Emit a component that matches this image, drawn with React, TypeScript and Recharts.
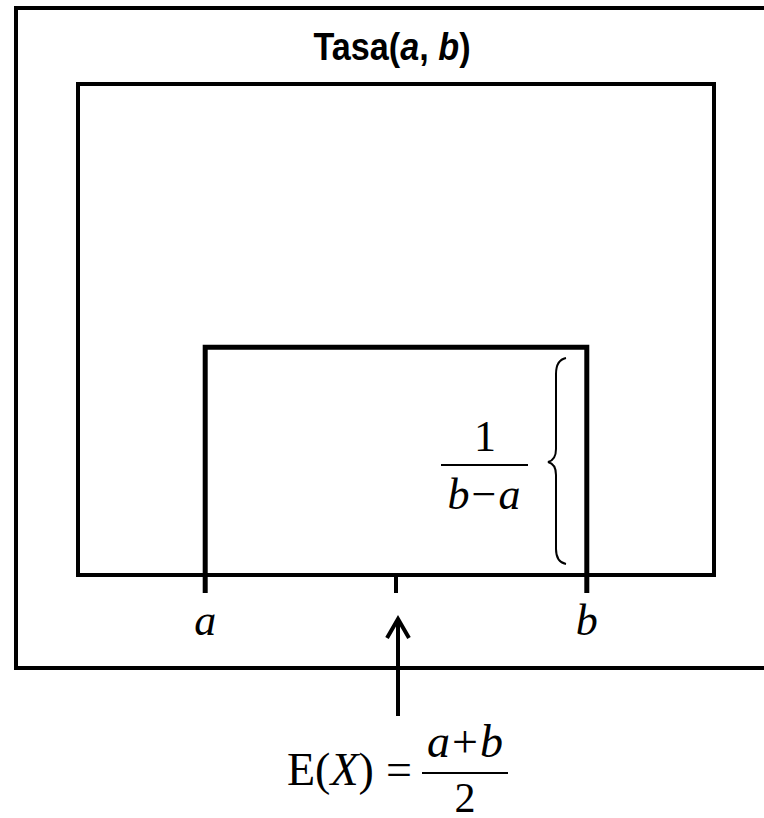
import { ComposedChart, Line, XAxis, YAxis, ReferenceArea } from 'recharts';

// uniform density on [a, b]
const stepX = [0.2, 0.2, 0.8, 0.8];
const stepY = [0, 1.67, 1.67, 0];
const tickValues = [0.2, 0.5, 0.8];
const tickLabels = ['a', '', 'b'];
const xDomain = [0, 1];
const yDomain = [0, 3.6];

const stepData = stepX.map((x, i) => ({ x, y: stepY[i] }));

const serif = '"Liberation Serif", "Times New Roman", serif';
const sans = '"Liberation Sans", Arial, sans-serif';

function AxisTick(props: any) {
  const { x, y, payload } = props;
  const idx = tickValues.indexOf(payload.value);
  const label = tickLabels[idx] ?? '';
  const isEnd = label !== '';
  return (
    <g>
      <line x1={x} x2={x} y1={y - 18} y2={y} stroke="#000" strokeWidth={isEnd ? 5 : 4} />
      {label && (
        <text x={x} y={y + 42} textAnchor="middle" fontFamily={serif} fontStyle="italic" fontSize={44} fill="#000">
          {label}
        </text>
      )}
    </g>
  );
}

export default function App() {
  return (
    <div style={{ position: 'absolute', left: 0, top: 0, width: 764, height: 818, overflow: 'hidden', background: '#fff' }}>
      <ComposedChart
        width={764}
        height={818}
        data={stepData}
        margin={{ top: 84, left: 78, right: 50, bottom: 183 }}
      >
        <XAxis
          dataKey="x"
          type="number"
          domain={xDomain}
          ticks={tickValues}
          axisLine={false}
          tickLine={false}
          tickSize={18}
          tickMargin={0}
          height={60}
          tick={<AxisTick />}
          allowDataOverflow
        />
        <YAxis type="number" domain={yDomain} hide allowDataOverflow />
        <ReferenceArea
          x1={xDomain[0]}
          x2={xDomain[1]}
          y1={yDomain[0]}
          y2={yDomain[1]}
          fill="none"
          fillOpacity={0}
          stroke="#000"
          strokeWidth={4}
        />
        <Line
          dataKey="y"
          type="linear"
          stroke="#000"
          strokeWidth={5}
          dot={false}
          activeDot={false}
          isAnimationActive={false}
        />
      </ComposedChart>
      <svg
        width={764}
        height={818}
        style={{ position: 'absolute', left: 0, top: 0, pointerEvents: 'none' }}
      >
        <path d="M 800 8 H 16 V 668 H 800" fill="none" stroke="#000" strokeWidth={4} />
        <g transform="translate(392,60) scale(0.9,1)">
          <text x={0} y={0} textAnchor="middle" fontFamily={sans} fontWeight="bold" fontSize={38} fill="#000">
            Tasa(<tspan fontStyle="italic">a</tspan>, <tspan fontStyle="italic">b</tspan>)
          </text>
        </g>

        {/* 1/(b-a) with brace */}
        <text x={485} y={451} textAnchor="middle" fontFamily={serif} fontSize={44} fill="#000">1</text>
        <line x1={441} x2={528} y1={465} y2={465} stroke="#000" strokeWidth={2} />
        <text x={484} y={509} textAnchor="middle" fontFamily={serif} fontSize={44} fill="#000">
          <tspan fontStyle="italic">b</tspan>
          <tspan dx={2}>−</tspan>
          <tspan dx={2} fontStyle="italic">a</tspan>
        </text>
        <path
          d="M 566 358 Q 556 360 556 374 L 556 449 Q 556 460 548 462 Q 556 464 556 475 L 556 549 Q 556 562 566 564"
          fill="none"
          stroke="#000"
          strokeWidth={2}
        />

        {/* expectation arrow */}
        <line x1={398} x2={398} y1={716} y2={620} stroke="#000" strokeWidth={4} />
        <polyline points="387,638 398,619 409,638" fill="none" stroke="#000" strokeWidth={4} />

        <text x={287} y={785} fontFamily={serif} fontSize={46} fill="#000">
          E(<tspan fontStyle="italic">X</tspan>)
        </text>
        <text x={399} y={785} textAnchor="middle" fontFamily={serif} fontSize={46} fill="#000">=</text>
        <text x={465} y={757} textAnchor="middle" fontFamily={serif} fontSize={46} fill="#000">
          <tspan fontStyle="italic">a</tspan>
          <tspan dx={2}>+</tspan>
          <tspan dx={2} fontStyle="italic">b</tspan>
        </text>
        <line x1={422} x2={508} y1={773} y2={773} stroke="#000" strokeWidth={2} />
        <text x={465} y={812} textAnchor="middle" fontFamily={serif} fontSize={42} fill="#000">2</text>
      </svg>
    </div>
  );
}
